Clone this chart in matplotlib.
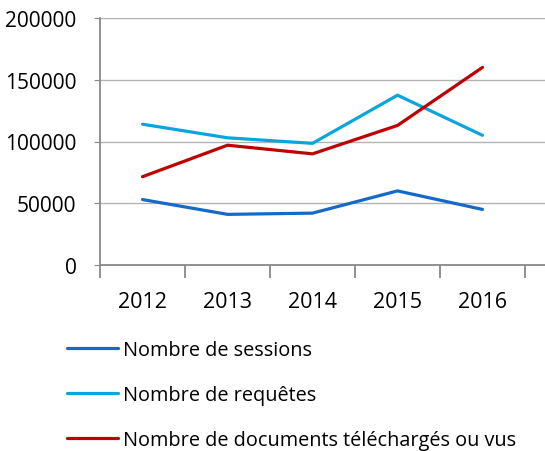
import matplotlib
matplotlib.use('Agg')
import matplotlib.pyplot as plt
import numpy as np

# Data
years = ['2012', '2013', '2014', '2015', '2016']
sessions = [53000, 41000, 42000, 60000, 45000]
requetes = [114000, 103000, 98500, 137500, 105000]
documents = [71500, 97000, 90000, 113000, 160000]

labels = ['Nombre de sessions', 'Nombre de requêtes',
          'Nombre de documents téléchargés ou vus']
colors = ['#1569C7', '#0BA5DD', '#C00000']

plt.rcParams['font.family'] = ['Open Sans', 'DejaVu Sans']

fig = plt.figure(figsize=(5.45, 4.52), dpi=100)
ax = fig.add_axes([100 / 545, (452 - 266) / 452, 445 / 545, 247 / 452])

x = np.arange(len(years))
handles = []
for vals, col, lab in zip([sessions, requetes, documents], colors, labels):
    h, = ax.plot(x, vals, color=col, linewidth=2.3, label=lab,
                 solid_capstyle='round', solid_joinstyle='round')
    handles.append(h)

ax.set_ylim(0, 200000)
ax.set_xlim(-0.5, 4.5 + 20 / 85)
ax.set_yticks([0, 50000, 100000, 150000, 200000])
ax.set_yticklabels(['0', '50000', '100000', '150000', '200000'])
ax.set_xticks(x)
ax.set_xticklabels(years)
ax.set_xticks(np.arange(-0.5, 5, 1), minor=True)

ax.grid(True, axis='y', color='#B3B3B3', linewidth=1.0)
ax.set_axisbelow(True)
for s in ['top', 'right']:
    ax.spines[s].set_visible(False)
for s in ['left', 'bottom']:
    ax.spines[s].set_color('#888888')
    ax.spines[s].set_linewidth(1.3)

ax.tick_params(axis='y', length=4, color='#888888', labelsize=15, pad=13)
ax.tick_params(axis='x', which='major', length=0, labelsize=15.5, pad=19)
ax.tick_params(axis='x', which='minor', length=9, color='#888888', width=1.3)

fig.legend(handles, labels, loc='upper left', bbox_to_anchor=(59 / 545, 1 - 333 / 452),
           frameon=False, fontsize=14.3, handlelength=2.56, handletextpad=0.25,
           labelspacing=1.27, borderaxespad=0)

plt.savefig('out.png', dpi=100)
